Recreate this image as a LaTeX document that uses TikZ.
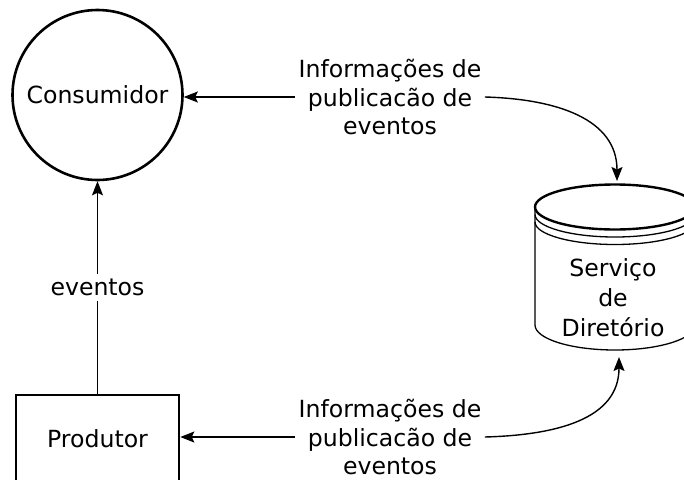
\documentclass[tikz,border=0pt]{standalone}
\usepackage{fontspec}
\setmainfont{DejaVu Sans}
\usetikzlibrary{arrows.meta}
\begin{document}
\begin{tikzpicture}[x=1pt,y=-1pt,
  txt/.style={font=\fontsize{23.6}{28.6}\selectfont},
  arr/.style={-{Stealth[length=14pt,width=11pt,inset=2.5pt]}, line width=1.4pt},
  thick outline/.style={draw, line width=2.6pt}]
\useasboundingbox (0,0) rectangle (684,479);
\clip (0,0) rectangle (684,479);
\fill[white] (0,0) rectangle (684,479);

% consumer and producer
\node[thick outline, circle, minimum size=170pt, inner sep=0, txt] (cons) at (97.5,95) {Consumidor};
\node[thick outline, minimum width=163pt, minimum height=88pt, inner sep=0, txt] (prod) at (97.5,439) {Produtor};

% directory service drawn as a database cylinder
\draw[line width=1.3pt] (535,207) -- (535,325)
  arc[start angle=180, end angle=360, x radius=80pt, y radius=25pt] -- (695,207);
\draw[line width=1.3pt] (535,214.5) arc[start angle=180, end angle=360, x radius=80pt, y radius=22.5pt];
\draw[line width=1.3pt] (535,222) arc[start angle=180, end angle=360, x radius=80pt, y radius=22.5pt];
\draw[line width=2.4pt, fill=white] (615,207) ellipse[x radius=80pt, y radius=22.5pt];
\node[txt, align=center, font=\fontsize{23.6}{30}\selectfont] (dir) at (613,298) {Serviço\\de\\Diretório};
\coordinate (cyltop) at (617,181);
\coordinate (cylbot) at (619,357);

% labels
\node[txt, align=center] (lbltop) at (390,97) {Informações de\\publicacão de\\eventos};
\node[txt, align=center] (lblbot) at (390,437) {Informações de\\publicacão de\\eventos};

% connectors
\draw[arr] (lbltop.west) -- (lbltop.west -| cons.east);
\draw[arr] (lbltop.east) .. controls +(72,2) and +(0,-62) .. (cyltop);
\draw[arr] (lblbot.west) -- (lblbot.west -| prod.east);
\draw[arr] (lblbot.east) .. controls +(72,-2) and +(0,62) .. (cylbot);
\draw[arr] (prod.north) -- node[txt, fill=white, inner sep=5pt] {eventos} (cons.south);
\end{tikzpicture}
\end{document}
